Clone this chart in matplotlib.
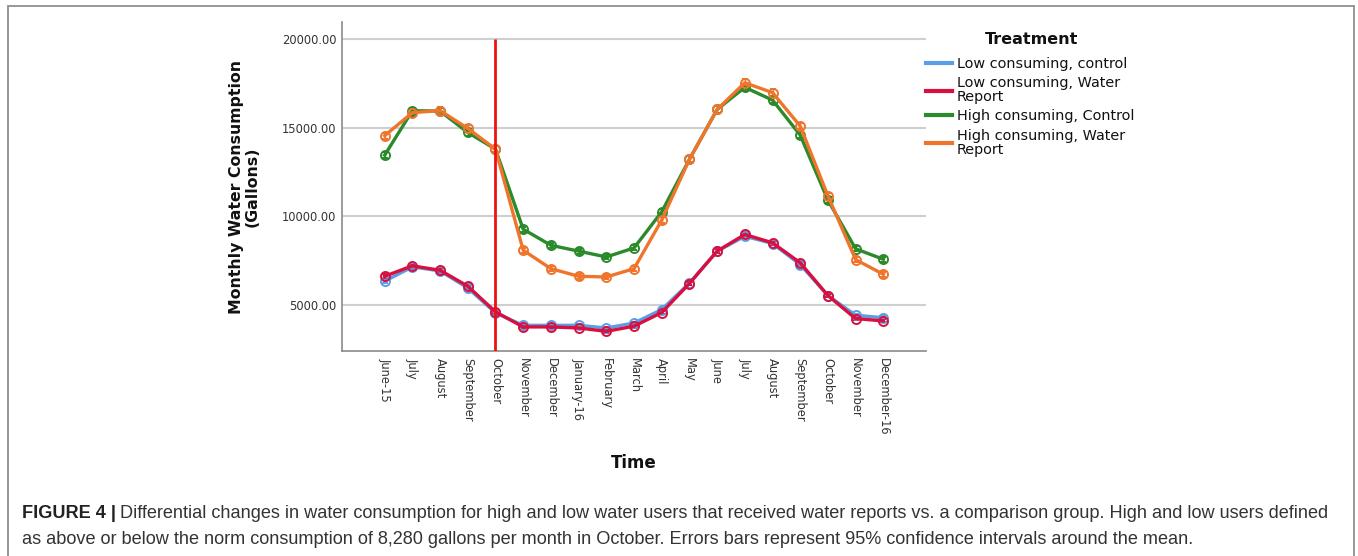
import matplotlib
matplotlib.use("Agg")
import matplotlib.pyplot as plt
from matplotlib.patches import Rectangle
from matplotlib.lines import Line2D

# ---------------- data ----------------
months = ["June-15", "July", "August", "September", "October", "November",
          "December", "January-16", "February", "March", "April", "May",
          "June", "July", "August", "September", "October", "November",
          "December-16"]

low_control = [6320, 7130, 6900, 5940, 4530, 3830, 3830, 3830, 3680, 3960,
               4720, 6220, 8010, 8860, 8450, 7260, 5510, 4400, 4260]
low_report = [6600, 7190, 6940, 6040, 4590, 3740, 3740, 3680, 3490, 3780,
              4550, 6190, 8020, 8960, 8490, 7360, 5510, 4210, 4080]
high_control = [13440, 15950, 15930, 14720, 13780, 9260, 8350, 8020, 7690,
                 8200, 10240, 13200, 16020, 17270, 16550, 14570, 10900, 8150, 7560]
high_report = [14540, 15840, 15960, 14950, 13780, 8070, 7030, 6600, 6560,
               7030, 9770, 13200, 16020, 17530, 16970, 15080, 11140, 7540, 6710]

# 95% CI half-widths (small, read as roughly marker size)
low_control_ci = [110, 110, 100, 100, 90, 80, 80, 80, 80, 80,
                  90, 100, 110, 120, 110, 100, 90, 80, 80]
low_report_ci = [110, 110, 100, 100, 90, 80, 80, 80, 80, 80,
                 90, 100, 110, 120, 110, 100, 90, 80, 80]
high_control_ci = [170, 180, 180, 170, 160, 150, 140, 140, 140, 140,
                   160, 170, 180, 190, 180, 170, 160, 150, 150]
high_report_ci = [170, 180, 180, 170, 160, 150, 140, 140, 140, 140,
                  160, 170, 180, 190, 180, 170, 160, 150, 150]

series_labels = ["Low consuming, control", "Low consuming, Water\nReport",
                 "High consuming, Control", "High consuming, Water\nReport"]
series_values = [low_control, low_report, high_control, high_report]
series_ci = [low_control_ci, low_report_ci, high_control_ci, high_report_ci]
series_colors = ["#5c9ee6", "#d8103f", "#2b8a2b", "#f0752c"]

yticks = [5000, 10000, 15000, 20000]
intervention_index = 4  # October

# ---------------- figure ----------------
W, H = 1358, 556
fig = plt.figure(figsize=(W / 100, H / 100), dpi=100)
plt.rcParams['font.family'] = ['DejaVu Sans']

def fx(px):
    return px / W

def fy(py):
    return 1 - py / H

ax_left, ax_right, ax_top, ax_bottom = 342, 926, 22, 351
ax = fig.add_axes([fx(ax_left), fy(ax_bottom), (ax_right - ax_left) / W,
                   (ax_bottom - ax_top) / H])

x = list(range(len(months)))
for vals, ci, col, lab in zip(series_values, series_ci, series_colors, series_labels):
    ax.errorbar(x, vals, yerr=ci, color=col, lw=2.4, marker='o', ms=6.5,
                mfc='none', mec=col, mew=1.4, elinewidth=1.0, capsize=2.5,
                capthick=1.0, label=lab, zorder=3)

ylo, yhi = 2380, 20960
ax.set_ylim(ylo, yhi)
ax.set_xlim(-1.54, len(months) - 1 + 1.54)
ax.vlines(intervention_index, ylo, 20000, color="#ee1111", lw=2, zorder=4)

ax.set_yticks(yticks)
ax.set_yticklabels([f"{v:.2f}" for v in yticks])
ax.set_xticks(x)
ax.set_xticklabels(months, rotation=-90, va='top', ha='center')
ax.tick_params(axis='both', length=0, labelsize=8.3, labelcolor="#333333")
ax.tick_params(axis='y', pad=4)
ax.tick_params(axis='x', pad=5)
ax.grid(axis='y', color="#cfcfcf", lw=1.5)
ax.set_axisbelow(True)
for s in ['top', 'right']:
    ax.spines[s].set_visible(False)
for s in ['left', 'bottom']:
    ax.spines[s].set_color("#8a8a8a")
    ax.spines[s].set_linewidth(1.2)

# axis titles
fig.text(fx(244), fy(187), "Monthly Water Consumption\n(Gallons)", rotation=90,
         ha='center', va='center', fontsize=11.3, fontweight='bold',
         multialignment='center', linespacing=1.05, color="#111111")
fig.text(fx(634), fy(463), "Time", ha='center', va='center', fontsize=12,
         fontweight='bold', color="#111111")

# legend
fig.text(fx(1032), fy(39), "Treatment", ha='center', va='center',
         fontsize=11.5, fontweight='bold', color="#111111")
handles = [Line2D([0], [0], color=c, lw=3) for c in series_colors]
leg = fig.legend(handles, series_labels, loc='upper left',
                 bbox_to_anchor=(fx(926), fy(57)), frameon=False,
                 fontsize=10.4, handlelength=1.8,
                 handletextpad=0.33, labelspacing=0.36, borderpad=0,
                 borderaxespad=0)
for t in leg.get_texts():
    t.set_linespacing(1.0)
    t.set_color("#111111")

# outer frame
fig.patches.append(Rectangle((fx(8), -0.02), fx(1354) - fx(8), fy(6) + 0.02,
                             transform=fig.transFigure, fill=False,
                             edgecolor="#8f8f8f", lw=1.3))

# caption
cap_font = ['Liberation Sans', 'DejaVu Sans']
cap_size = 13.1
t1 = fig.text(fx(22), fy(513), "FIGURE 4 |", fontsize=cap_size, fontweight='bold',
              family=cap_font, va='center', ha='left', color="#222222")
fig.canvas.draw()
bb = t1.get_window_extent()
fig.text(bb.x1 / W + 4 / W, fy(513),
         "Differential changes in water consumption for high and low water users that received water reports vs. a comparison group. High and low users defined",
         fontsize=cap_size, family=cap_font, va='center', ha='left', color="#333333")
fig.text(fx(22), fy(540),
         "as above or below the norm consumption of 8,280 gallons per month in October. Errors bars represent 95% confidence intervals around the mean.",
         fontsize=cap_size, family=cap_font, va='center', ha='left', color="#333333")

fig.savefig("out.png", dpi=100)
